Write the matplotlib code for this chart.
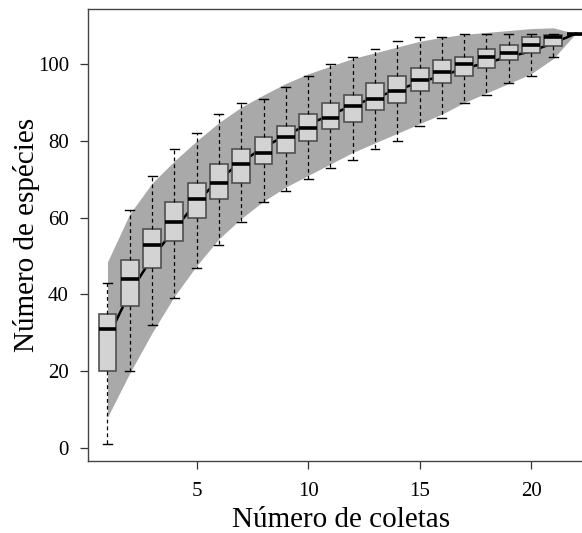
import numpy as np
import matplotlib
matplotlib.use("Agg")
import matplotlib.pyplot as plt

# coletas 1..22
coletas = np.arange(1, 23)

# boxplot stats
whislo = [1, 20, 32, 39, 47, 53, 59, 64, 67, 70, 73, 75, 78, 80, 84, 86, 90, 92, 95, 97, 102, 108]
q1 = [20, 37, 47, 54, 60, 65, 69, 74, 77, 80, 83, 85, 88, 90, 93, 95, 97, 99, 101, 103, 104.7, 108]
med = [31, 44, 53, 59, 65, 69, 74, 77, 81, 83.5, 86, 89, 91, 93, 96, 98, 100, 102, 103, 105, 107, 108]
q3 = [35, 49, 57, 64, 69, 74, 78, 81, 84, 87, 90, 92, 95, 97, 99, 101, 102, 104, 105, 107, 107.5, 108]
whishi = [43, 62, 71, 78, 82, 87, 90, 91, 94, 97, 100, 102, 104, 106, 107, 107, 108, 108, 108, 108, 108, 108]

# accumulation curve and confidence band
riqueza = [28.5, 40.5, 49.5, 57, 64, 70, 74.5, 78.3, 81.5, 84.3, 86.8, 89.3, 91.3, 93.3,
           95.3, 97, 98.9, 100.4, 101.9, 103.4, 105.5, 108]
ic_sup = [48.5, 61, 69, 74.8, 80, 84.8, 88.8, 92, 95, 97.5, 99.5, 101.5, 103, 104.5,
          106, 107, 107.8, 108.3, 108.8, 109.3, 109.5, 108]
ic_inf = [8, 19.5, 30, 39.5, 47.5, 54.5, 59.8, 64.3, 68, 71, 74, 77, 79.5, 82, 84.5, 87,
          90, 92.5, 95, 97.5, 101.5, 108]

plt.rcParams['font.family'] = ['Liberation Serif', 'DejaVu Serif']

fig = plt.figure(figsize=(5.82, 5.33), dpi=100)
ax = fig.add_axes([0.1517, 0.1351, 0.8696, 0.848])

ax.fill_between(coletas, ic_inf, ic_sup, color='#a9a9a9', lw=0, zorder=1)
ax.plot(coletas, riqueza, color='black', lw=1.8, zorder=2)

stats = []
for i in range(len(coletas)):
    stats.append(dict(whislo=whislo[i], q1=q1[i], med=med[i], q3=q3[i],
                      whishi=whishi[i], fliers=[]))

ax.bxp(stats, positions=coletas, widths=0.8, capwidths=0.4, patch_artist=True,
       boxprops=dict(facecolor='#d3d3d3', edgecolor='#505050', lw=1.2),
       medianprops=dict(color='black', lw=2.6),
       whiskerprops=dict(color='black', ls=(0, (3, 2.5)), lw=0.9),
       capprops=dict(color='black', lw=1.0),
       manage_ticks=False, zorder=3)

ax.set_xlim(0.14, 22.84)
ax.set_ylim(-3.4, 114.4)
ax.set_xticks([5, 10, 15, 20])
ax.set_yticks([0, 20, 40, 60, 80, 100])
ax.tick_params(labelsize=15, length=6, width=0.9, color='#333333')
ax.tick_params(axis='x', pad=9)
ax.tick_params(axis='y', pad=8)
for s in ax.spines.values():
    s.set_color('#444444')
    s.set_linewidth(1.0)

ax.set_xlabel('Número de coletas', fontsize=21)
ax.set_ylabel('Número de espécies', fontsize=21, va='center')
ax.xaxis.set_label_coords(0.5, -0.102)
ax.yaxis.set_label_coords(-0.123, 0.5)

fig.savefig('out.png', dpi=100)
